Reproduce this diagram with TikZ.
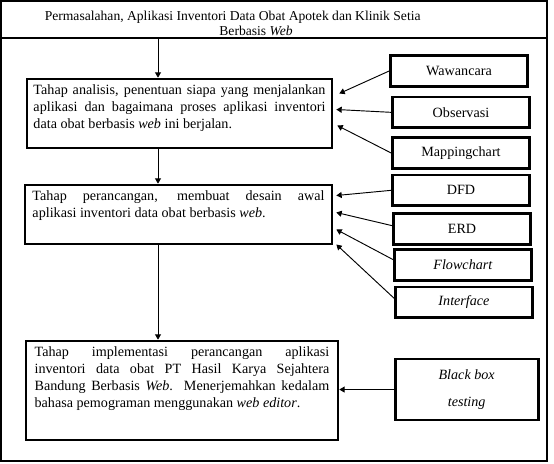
\documentclass[tikz,border=0pt]{standalone}
\usepackage{fontspec}
\setmainfont{Liberation Serif}
\usetikzlibrary{arrows.meta}
\hyphenpenalty=10000
\tolerance=9999
\hbadness=10000
\tikzset{%
  >={Triangle[width=4.5pt,length=4pt]},
  % looks of the boxes and lines
     box/.style = {rectangle, draw=black, line width=2pt,
                   font=\fontsize{10.6}{12.75}\selectfont},
     stage/.style = {box, inner xsep=0pt, inner ysep=4pt},
     method/.style = {box, minimum width=102.75pt, minimum height=23pt,
                      inner sep=0pt, align=center},
     frameline/.style = {line width=1.2pt},
     link/.style = {->, line width=0.7pt},
}

\begin{document}
\begin{tikzpicture}[x=0.75pt, y=-0.75pt, node distance=28pt]
  \useasboundingbox (0,0) rectangle (554,464);
  % outer frame and heading row
  \draw[frameline] (1,1) rectangle (547,461);
  \draw[frameline] (1,38) -- (547,38);
  \node (title) [anchor=south, inner ysep=1.5pt, align=center,
                 font=\fontsize{10.2}{11}\selectfont] at (256,38)
        {Permasalahan, Aplikasi Inventori Data Obat Apotek dan Klinik Setia\rule{35pt}{0pt}\\
         Berbasis \textit{Web}};

  % stages on the left
  \node (analisis)     [stage, minimum width=228.75pt] at (179.5,113.5)
                       {\parbox[c][43.75pt][t]{219pt}{Tahap analisis, penentuan siapa yang menjalankan\linebreak
                        aplikasi dan bagaimana proses aplikasi inventori\linebreak
                        data obat berbasis \textit{web} ini berjalan.}};
  \node (perancangan)  [stage, minimum width=230.25pt, below of=analisis, xshift=-0.75pt, yshift=-47.75pt]
                       {\parbox[c][36.25pt][t]{219pt}{Tahap perancangan, membuat desain awal\linebreak
                        aplikasi inventori data obat berbasis \textit{web}.}};
  \node (implementasi) [stage, minimum width=234pt, below of=perancangan, xshift=2.6pt, yshift=-104pt]
                       {\parbox[c][66.25pt][t]{221pt}{Tahap implementasi perancangan aplikasi\linebreak
                        inventori data obat PT Hasil Karya Sejahtera\linebreak
                        Bandung Berbasis \textit{Web}. Menerjemahkan kedalam\linebreak
                        bahasa pemograman menggunakan \textit{web editor}.}};

  % methods on the right
  \node (wawancara) [method] at (459,71) {Wawancara};
  \node (observasi) [method, below of=wawancara, xshift=1.5pt, yshift=-3pt] {Observasi};
  \node (mapping)   [method, below of=observasi, yshift=-2.5pt] {Mappingchart};
  \node (dfd)       [method, below of=mapping] {DFD};
  \node (erd)       [method, below of=dfd, xshift=0.75pt, yshift=-1pt] {ERD};
  \node (flowchart) [method, below of=erd, xshift=0.75pt, yshift=1pt] {\textit{Flowchart}};
  \node (interface) [method, below of=flowchart, xshift=0.75pt] {\textit{Interface}};
  \node (blackbox)  [method, minimum width=107.25pt, minimum height=45.75pt,
                     below of=interface, xshift=2pt, yshift=-37.4pt]
                    {\textit{Black box}\\[7pt]\textit{testing}};

  % connectors
  \coordinate (spine) at (158,0);
  \draw[link] (title.south -| spine) -- (analisis.north -| spine);
  \draw[link] (analisis.south -| spine) -- (perancangan.north -| spine);
  \draw[link] (perancangan.south -| spine) -- (implementasi.north -| spine);

  \draw[link] (wawancara.west) -- ([shift={(6,-20)}]analisis.east);
  \draw[link] (observasi.west) -- ([shift={(3,-4)}]analisis.east);
  \draw[link] (mapping.west) -- ([shift={(4,12)}]analisis.east);
  \draw[link] (dfd.west) -- ([shift={(3,-19)}]perancangan.east);
  \draw[link] ([yshift=2.5pt]erd.west) -- ([shift={(3,-2)}]perancangan.east);
  \draw[link] ([yshift=4pt]flowchart.west) -- ([shift={(3,15)}]perancangan.east);
  \draw[link] ([yshift=3pt]interface.west) -- ([shift={(3,30)}]perancangan.east);
  \draw[link] (blackbox.west) -- (blackbox.west -| implementasi.east);
\end{tikzpicture}
\end{document}
